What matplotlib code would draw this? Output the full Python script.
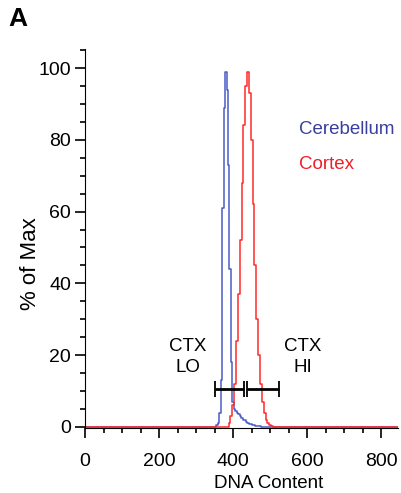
import matplotlib.pyplot as plt
from matplotlib.ticker import MultipleLocator

# histogram channels (DNA content) and % of max
blue_x = [0, 352, 356, 360, 364, 368, 372, 376, 380, 384, 388, 392, 396, 400,
          404, 408, 412, 416, 420, 424, 428, 432, 436, 440, 444, 448, 452,
          456, 460, 464, 468, 472, 480, 490, 850]
blue_y = [0, 0, 0.5, 1, 4, 13, 61, 89, 99, 94, 73, 44, 18, 7,
          5, 4.5, 4, 3.5, 3, 2.5, 2, 1.8, 1.4, 1.1, 0.9, 0.7, 0.6,
          0.5, 0.4, 0.3, 0.3, 0.2, 0.1, 0, 0]

red_x = [0, 385, 390, 395, 400, 405, 410, 415, 420, 425, 430, 435, 440, 445,
         450, 455, 460, 465, 470, 475, 480, 485, 490, 495, 500, 505, 510, 850]
red_y = [0, 0, 1, 3, 6, 12, 24, 37, 52, 68, 84, 95, 99, 93,
         80, 62, 45, 30, 20, 12, 7, 4, 2, 1, 0.5, 0.2, 0, 0]

# gates: (start, end, label x, label)
gates = [(350, 429, 277, "CTX\nLO"), (438, 523, 587, "CTX\nHI")]
gate_y = 10.5

blue = "#4a5cc6"
red = "#ff2a2a"

plt.rcParams['font.family'] = ['Liberation Sans', 'DejaVu Sans']

fig = plt.figure(figsize=(4.01, 4.93), dpi=100)
ax = fig.add_axes([0.212, 0.1318, 0.7805, 0.7688])

ax.plot(blue_x, blue_y, drawstyle='steps-mid', color=blue, lw=1.1)
ax.plot(red_x, red_y, drawstyle='steps-mid', color=red, lw=1.1)

for x0, x1, lx, lab in gates:
    ax.errorbar([(x0 + x1) / 2], [gate_y], xerr=[(x1 - x0) / 2], color='black',
                lw=2, capsize=6, capthick=1.3, fmt='none')
    ax.text(lx, 19.5, lab, ha='center', va='center', fontsize=13.5,
            linespacing=1.25)

ax.text(579, 82.8, "Cerebellum", color="#3a3f9e", fontsize=13.5, va='center')
ax.text(579, 73, "Cortex", color="#ee2028", fontsize=13.5, va='center')

ax.set_xlim(0, 845)
ax.set_ylim(-0.3, 105.3)
ax.spines['top'].set_visible(False)
ax.spines['right'].set_visible(False)
ax.xaxis.set_major_locator(MultipleLocator(200))
ax.xaxis.set_minor_locator(MultipleLocator(50))
ax.yaxis.set_major_locator(MultipleLocator(20))
ax.yaxis.set_minor_locator(MultipleLocator(5))
ax.tick_params(which='major', length=7, width=1.2)
ax.tick_params(which='minor', length=3.5, width=1.2)
ax.tick_params(axis='x', pad=11)
ax.tick_params(axis='y', pad=3)
for lab in ax.get_xticklabels() + ax.get_yticklabels():
    lab.set_family(['Liberation Sans Narrow', 'Liberation Sans'])
    lab.set_fontsize(14)

ax.set_xlabel("DNA Content", fontsize=13.5)
ax.xaxis.set_label_coords(0.588, -0.123)
ax.set_ylabel("% of Max", fontsize=16)
ax.yaxis.set_label_coords(-0.14, 0.435)

fig.text(0.022, 0.962, "A", fontsize=19, fontweight='bold', va='center')

fig.savefig("out.png", dpi=100)
